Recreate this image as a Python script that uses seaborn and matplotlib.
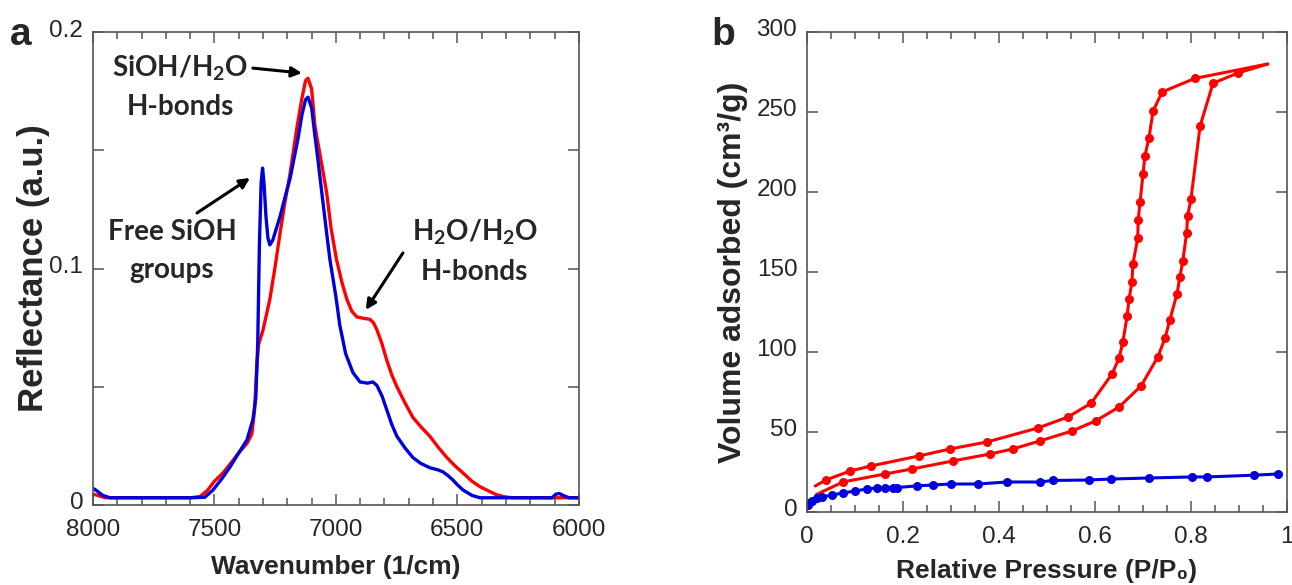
import numpy as np
import pandas as pd
import matplotlib
matplotlib.use('Agg')
import matplotlib.pyplot as plt
import matplotlib.transforms as mtransforms
import seaborn as sns
from matplotlib.ticker import MultipleLocator, FixedLocator

# ---------------- data: panel a (NIR reflectance) ----------------
wn_red = [8000, 7980, 7950, 7900, 7800, 7700, 7600, 7560, 7530, 7500, 7465, 7430, 7400,
          7366, 7346, 7335, 7325, 7318, 7300, 7272, 7250, 7230, 7210, 7189, 7160, 7140,
          7125, 7115, 7100, 7086, 7060, 7038, 7020, 6998, 6975, 6955, 6935, 6914, 6890,
          6860, 6845, 6831, 6810, 6790, 6770, 6749, 6715, 6683, 6650, 6613, 6580, 6543,
          6510, 6477, 6440, 6407, 6370, 6337, 6300, 6272, 6200, 6100, 6050, 6000]
refl_red = [0.0045, 0.004, 0.003, 0.003, 0.003, 0.003, 0.003, 0.0035, 0.006, 0.010, 0.0135,
            0.018, 0.022, 0.026, 0.030, 0.040, 0.060, 0.068, 0.074, 0.087, 0.101, 0.115,
            0.128, 0.140, 0.160, 0.172, 0.1795, 0.1805, 0.176, 0.160, 0.145, 0.132, 0.117,
            0.104, 0.094, 0.087, 0.082, 0.0795, 0.079, 0.0785, 0.077, 0.074, 0.068, 0.061,
            0.055, 0.050, 0.043, 0.037, 0.033, 0.029, 0.0245, 0.020, 0.0165, 0.0135, 0.010,
            0.0077, 0.0058, 0.0042, 0.0033, 0.003, 0.003, 0.003, 0.003, 0.003]

wn_blue = [8000, 7985, 7960, 7930, 7800, 7600, 7540, 7506, 7470, 7436, 7400, 7366, 7342,
           7330, 7322, 7315, 7308, 7302, 7296, 7288, 7280, 7272, 7260, 7245, 7230, 7210,
           7189, 7156, 7140, 7125, 7115, 7100, 7085, 7074, 7058, 7037, 7025, 7000, 6984,
           6960, 6930, 6901, 6870, 6848, 6831, 6810, 6790, 6770, 6749, 6715, 6683, 6650,
           6613, 6580, 6560, 6540, 6519, 6500, 6477, 6440, 6407, 6300, 6200, 6110, 6095,
           6080, 6065, 6040, 6000]
refl_blue = [0.007, 0.006, 0.004, 0.003, 0.003, 0.003, 0.0032, 0.0063, 0.011, 0.016, 0.022,
             0.0275, 0.036, 0.045, 0.068, 0.110, 0.136, 0.1425, 0.136, 0.122, 0.113, 0.110,
             0.112, 0.117, 0.122, 0.130, 0.138, 0.155, 0.165, 0.1715, 0.1725, 0.168, 0.155,
             0.146, 0.132, 0.114, 0.104, 0.088, 0.076, 0.064, 0.056, 0.052, 0.0515, 0.052,
             0.0505, 0.046, 0.040, 0.034, 0.029, 0.024, 0.020, 0.0175, 0.0157, 0.0148, 0.014,
             0.0125, 0.0106, 0.0085, 0.0063, 0.004, 0.003, 0.003, 0.003, 0.003, 0.0045,
             0.0048, 0.004, 0.003, 0.003]

# ---------------- data: panel b (N2 sorption isotherms) ----------------
p_blue = [0.002, 0.005, 0.01, 0.02, 0.031, 0.052, 0.075, 0.10, 0.125, 0.146, 0.163, 0.179,
          0.1875, 0.229, 0.2625, 0.30, 0.356, 0.417, 0.485, 0.5125, 0.5875, 0.633, 0.7125,
          0.802, 0.833, 0.931, 0.981]
v_blue = [4.5, 5.5, 7.0, 8.5, 9.4, 10.6, 11.9, 13.1, 14.4, 15.0, 15.0, 15.3, 15.3, 16.3,
          16.9, 17.5, 17.5, 18.75, 18.75, 19.7, 20.0, 20.6, 21.25, 21.9, 21.9, 23.0, 23.75]

p_ads = [0.02, 0.075, 0.1625, 0.219, 0.304, 0.381, 0.429, 0.485, 0.552, 0.602, 0.65, 0.696,
         0.731, 0.746, 0.756, 0.771, 0.777, 0.783, 0.791, 0.793, 0.800, 0.819, 0.846, 0.898,
         0.96]
v_ads = [11.0, 18.75, 23.75, 26.9, 31.9, 36.25, 39.4, 44.4, 50.6, 57.0, 65.6, 78.75, 96.9,
         108.75, 120.0, 136.5, 146.9, 156.9, 174.4, 185.0, 195.6, 241.25, 268.0, 274.4, 280.0]

p_des = [0.96, 0.808, 0.74, 0.721, 0.7125, 0.704, 0.70, 0.694, 0.69, 0.689, 0.679, 0.677,
         0.671, 0.667, 0.658, 0.65, 0.635, 0.592, 0.544, 0.481, 0.375, 0.298, 0.233, 0.133,
         0.0896, 0.0396, 0.017]
v_des = [280.0, 271.0, 262.5, 250.6, 233.75, 222.5, 211.0, 193.75, 182.5, 171.0, 155.0,
         143.75, 133.0, 122.5, 106.0, 96.0, 86.0, 68.0, 59.4, 52.5, 43.75, 39.4, 35.0,
         28.75, 25.6, 20.0, 16.25]

xt_a = [8000, 7500, 7000, 6500, 6000]
yt_a = [0, 0.05, 0.1, 0.15, 0.2]
ytl_a = ['0', '', '0.1', '', '0.2']
xt_b = [0, 0.2, 0.4, 0.6, 0.8, 1.0]
xtl_b = ['0', '0.2', '0.4', '0.6', '0.8', '1']
yt_b = [0, 50, 100, 150, 200, 250, 300]

# ---------------- style ----------------
sns.set_style('ticks')
plt.rcParams['font.family'] = ['Liberation Sans', 'DejaVu Sans']
plt.rcParams['mathtext.fontset'] = 'custom'
plt.rcParams['mathtext.bf'] = 'Lato:bold'
plt.rcParams['mathtext.rm'] = 'Lato:bold'
plt.rcParams['mathtext.default'] = 'bf'

RED = '#ff0000'
BLUE = '#0000dd'
SPINE = '#555555'
TICK_FS = 17.5
XLABEL_FS = 19
YLABEL_A_FS = 25
YLABEL_B_FS = 23
ANNOT_FS = 20

fig = plt.figure(figsize=(12.92, 5.85), dpi=100)
axa = fig.add_axes([0.072, 0.137, 0.376, 0.808])
axb = fig.add_axes([0.6246, 0.1248, 0.3715, 0.8205])

for ax in (axa, axb):
    for s in ax.spines.values():
        s.set_color(SPINE)
        s.set_linewidth(1.2)
    ax.tick_params(which='both', direction='in', top=True, right=True, color=SPINE,
                   width=1.1, labelsize=TICK_FS)
    ax.tick_params(which='major', length=8)
    ax.tick_params(which='minor', length=5)
    ax.tick_params(axis='x', pad=10)
    ax.tick_params(axis='y', pad=7)

# ---- panel a ----
sns.lineplot(x=wn_red, y=refl_red, ax=axa, color=RED, lw=2.4, sort=False, estimator=None)
sns.lineplot(x=wn_blue, y=refl_blue, ax=axa, color=BLUE, lw=2.4, sort=False, estimator=None)
axa.set_xlim(8000, 6000)
axa.set_ylim(0, 0.2)
axa.xaxis.set_major_locator(FixedLocator(xt_a))
axa.xaxis.set_minor_locator(MultipleLocator(100))
axa.yaxis.set_major_locator(FixedLocator(yt_a))
axa.set_yticklabels(ytl_a)
axa.set_xticklabels([str(v) for v in xt_a])
axa.set_xlabel('Wavenumber (1/cm)', fontsize=XLABEL_FS, fontweight='bold', labelpad=10)
axa.set_ylabel('Reflectance (a.u.)', fontsize=YLABEL_A_FS, fontweight='bold')
axa.yaxis.set_label_coords(-0.088, 0.5)

arrow = dict(arrowstyle='-|>', color='black', lw=2.2, mutation_scale=15, shrinkA=0, shrinkB=0)
axa.annotate('', xy=(7140, 0.1827), xytext=(7342, 0.1848), arrowprops=arrow)
axa.annotate('', xy=(7354, 0.1383), xytext=(7572, 0.1235), arrowprops=arrow)
axa.annotate('', xy=(6877, 0.0825), xytext=(6724, 0.1066), arrowprops=arrow)

tkw = dict(fontsize=ANNOT_FS, fontfamily='Lato', fontweight='bold', ha='center',
           va='center', multialignment='center', linespacing=1.55)
axa.text(7642, 0.177, 'SiOH/H$_2$O\nH-bonds', **tkw)
axa.text(7675, 0.1074, 'Free SiOH\ngroups', **tkw)
axa.text(6428, 0.1074, 'H$_2$O/H$_2$O\nH-bonds', **tkw)

# ---- panel b ----
mk = dict(marker='o', markersize=6.5, markeredgewidth=0)
sns.lineplot(x=p_des, y=v_des, ax=axb, color=RED, lw=2.2, sort=False, estimator=None)
sns.lineplot(x=p_ads, y=v_ads, ax=axb, color=RED, lw=2.2, sort=False, estimator=None)
axb.plot(p_des[1:-1], v_des[1:-1], ls='none', color=RED, **mk)
axb.plot(p_ads[1:-1], v_ads[1:-1], ls='none', color=RED, **mk)
sns.lineplot(x=p_blue, y=v_blue, ax=axb, color=BLUE, lw=2.2, sort=False, estimator=None)
axb.plot(p_blue, v_blue, ls='none', color=BLUE, **mk)
axb.set_xlim(0, 1)
axb.set_ylim(0, 300)
axb.xaxis.set_major_locator(FixedLocator(xt_b))
axb.set_xticklabels(xtl_b)
axb.xaxis.set_minor_locator(MultipleLocator(0.05))
axb.yaxis.set_major_locator(FixedLocator(yt_b))
axb.set_yticklabels([str(v) for v in yt_b])
axb.set_xlabel('Relative Pressure (P/P\u2080)', fontsize=XLABEL_FS, fontweight='bold', labelpad=8)
axb.set_ylabel('Volume adsorbed (cm\u00b3/g)', fontsize=YLABEL_B_FS, fontweight='bold', labelpad=6)

# y tick labels sit a little above their ticks in the reference
shift = mtransforms.ScaledTranslation(0, 3 / 72, fig.dpi_scale_trans)
for ax in (axa, axb):
    for lab in ax.get_yticklabels():
        lab.set_transform(lab.get_transform() + shift)

fig.text(0.0077, 0.923, 'a', fontsize=28, fontweight='bold', va='baseline', ha='left')
fig.text(0.551, 0.923, 'b', fontsize=28, fontweight='bold', va='baseline', ha='left')

fig.savefig('out.png', dpi=100)
